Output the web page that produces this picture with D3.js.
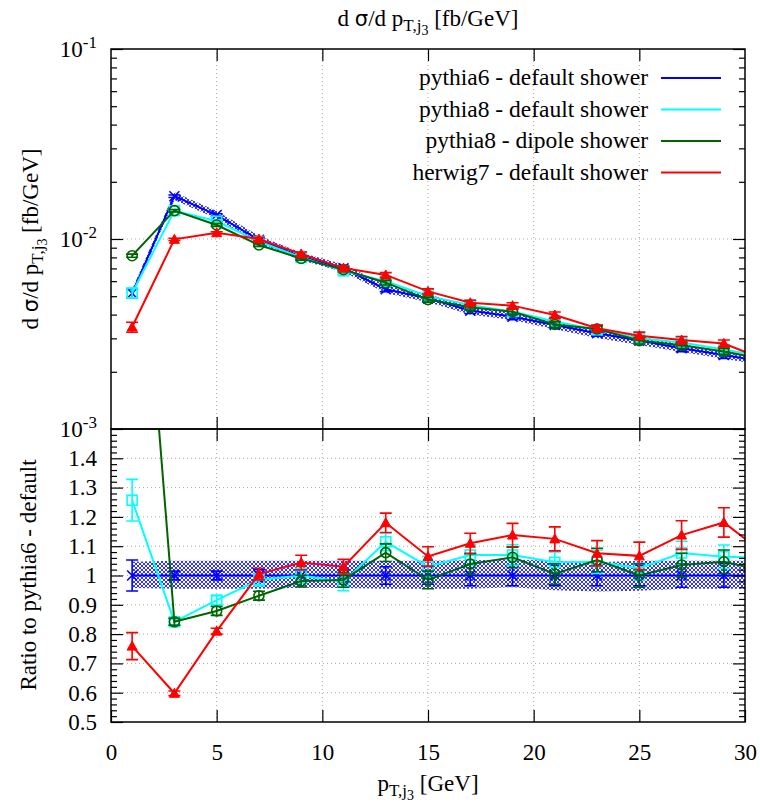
<!DOCTYPE html>
<html>
<head>
<meta charset="utf-8">
<script src="https://cdn.jsdelivr.net/npm/d3@7"></script>
<style>
body { margin: 0; background: #fff; }
svg, svg text { font-family: "Liberation Serif", "DejaVu Serif", "Times New Roman", Times, serif !important; }
.axis path { display: none; }
.axis line { stroke: #000; stroke-width: 1.2; }
.axis text { font-size: 23px; fill: #000; }
.grid line { stroke: #a8a8a8; stroke-width: 1; stroke-dasharray: 1,3; }
</style>
</head>
<body>
<svg id="chart" width="760" height="806"></svg>
<script>
// bin centres (last one sits just past the frame and is clipped)
var xBins = [1, 3, 5, 7, 9, 11, 13, 15, 17, 19, 21, 23, 25, 27, 29, 31];

// d sigma / d pT [fb/GeV]
var p6Xsec  = [0.00518, 0.0168, 0.01337, 0.0099, 0.00806, 0.00701, 0.00544, 0.00487, 0.0042, 0.0039, 0.00353, 0.00319, 0.00292, 0.00266, 0.00245, 0.00225];
var p8Xsec  = [0.0052, 0.0141, 0.0124, 0.0097, 0.0080, 0.0068, 0.0060, 0.0050, 0.0045, 0.00415, 0.00368, 0.00333, 0.0030, 0.00285, 0.00262, 0.0024];
var p8dXsec = [0.00817, 0.0141, 0.01185, 0.0093, 0.0079, 0.0069, 0.00589, 0.0048, 0.00437, 0.00414, 0.00355, 0.00336, 0.00292, 0.00276, 0.00256, 0.00232];
var hw7Xsec = [0.00344, 0.00996, 0.01079, 0.0100, 0.00834, 0.00703, 0.00647, 0.0053, 0.00462, 0.00446, 0.00398, 0.00339, 0.0031, 0.00294, 0.00282, 0.0023];

// ratio to pythia6 default
var p6Ratio  = [1, 1, 1, 1, 1, 1, 1, 1, 1, 1, 1, 1, 1, 1, 1, 1];
var p8Ratio  = [1.257, 0.842, 0.916, 0.985, 1.0, 0.978, 1.115, 1.03, 1.07, 1.07, 1.045, 1.047, 1.025, 1.077, 1.064, 1.06];
var p8dRatio = [2.65, 0.842, 0.879, 0.931, 0.981, 0.985, 1.078, 0.985, 1.039, 1.062, 1.005, 1.053, 1.0, 1.036, 1.047, 1.015];
var hw7Ratio = [0.759, 0.598, 0.81, 1.005, 1.044, 1.03, 1.18, 1.065, 1.11, 1.138, 1.125, 1.076, 1.067, 1.138, 1.181, 1.07];

// ratio errors (half widths)
var p6Err  = [0.053, 0.015, 0.015, 0.02, 0.02, 0.02, 0.03, 0.03, 0.035, 0.035, 0.035, 0.035, 0.035, 0.04, 0.04, 0.04];
var p8Err  = [0.071, 0.01, 0.015, 0.02, 0.025, 0.03, 0.03, 0.035, 0.035, 0.035, 0.035, 0.04, 0.04, 0.04, 0.04, 0.04];
var p8dErr = [0.05, 0.012, 0.015, 0.015, 0.02, 0.025, 0.03, 0.03, 0.035, 0.035, 0.035, 0.04, 0.04, 0.04, 0.04, 0.04];
var hw7Err = [0.046, 0.008, 0.01, 0.02, 0.025, 0.025, 0.033, 0.033, 0.034, 0.04, 0.041, 0.043, 0.047, 0.049, 0.05, 0.05];

// pythia6 uncertainty band (ratio)
var bandHi = [1.047, 1.05, 1.05, 1.05, 1.05, 1.05, 1.05, 1.05, 1.052, 1.055, 1.05, 1.045, 1.05, 1.05, 1.05, 1.05];
var bandLo = [0.957, 0.955, 0.955, 0.955, 0.958, 0.957, 0.955, 0.955, 0.955, 0.96, 0.95, 0.945, 0.948, 0.955, 0.955, 0.955];

var seriesNames = ['pythia6 - default shower', 'pythia8 - default shower', 'pythia8 - dipole shower', 'herwig7 - default shower'];
var seriesColors = ['#0000ff', '#00ffff', '#006400', '#ff0000'];
var seriesMarks = ['cross', 'square', 'circle', 'triangle'];

var xTicks = [0, 5, 10, 15, 20, 25, 30];
var yTopTicks = [1e-3, 1e-2, 1e-1];
var yBotTicks = [0.5, 0.6, 0.7, 0.8, 0.9, 1.0, 1.1, 1.2, 1.3, 1.4];

var FONT = '"Liberation Serif", "DejaVu Serif", "Times New Roman", serif';
var FS = 23;

var series = seriesNames.map(function (n, k) {
    return {
        name: n, color: seriesColors[k], mark: seriesMarks[k],
        xsec: [p6Xsec, p8Xsec, p8dXsec, hw7Xsec][k],
        ratio: [p6Ratio, p8Ratio, p8dRatio, hw7Ratio][k],
        err: [p6Err, p8Err, p8dErr, hw7Err][k]
    };
});

var svg = d3.select('#chart').attr('font-family', FONT);
var L = 111, R = 745, T = 49, M = 429, B = 722;

var x = d3.scaleLinear().domain([0, 30]).range([L, R]);
var yT = d3.scaleLog().domain([1e-3, 1e-1]).range([M, T]);
var yB = d3.scaleLinear().domain([0.5, 1.5]).range([B, M]);

var defs = svg.append('defs');
defs.append('clipPath').attr('id', 'clipTop').append('rect')
    .attr('x', L).attr('y', T).attr('width', R - L).attr('height', M - T);
defs.append('clipPath').attr('id', 'clipBot').append('rect')
    .attr('x', L).attr('y', M).attr('width', R - L).attr('height', B - M);
var pat = defs.append('pattern').attr('id', 'hatch')
    .attr('patternUnits', 'userSpaceOnUse').attr('width', 4).attr('height', 4);
pat.append('path').attr('d', 'M0,0L4,4M4,0L0,4')
    .attr('stroke', '#0000ff').attr('stroke-width', 0.8);

// grid
var grid = svg.append('g').attr('class', 'grid');
xTicks.slice(1, -1).forEach(function (t) {
    grid.append('line').attr('x1', x(t)).attr('x2', x(t)).attr('y1', T).attr('y2', B);
});
grid.append('line').attr('x1', L).attr('x2', R).attr('y1', yT(1e-2)).attr('y2', yT(1e-2));
yBotTicks.slice(1).forEach(function (t) {
    grid.append('line').attr('x1', L).attr('x2', R).attr('y1', yB(t)).attr('y2', yB(t));
});

// markers
function drawMark(g, type, cx, cy, color) {
    var s = 5;
    if (type === 'cross') {
        g.append('path').attr('d', 'M' + (cx - s) + ',' + (cy - s) + 'L' + (cx + s) + ',' + (cy + s) +
            'M' + (cx + s) + ',' + (cy - s) + 'L' + (cx - s) + ',' + (cy + s))
            .attr('stroke', color).attr('stroke-width', 1.6).attr('fill', 'none');
    } else if (type === 'square') {
        g.append('rect').attr('x', cx - s).attr('y', cy - s).attr('width', 2 * s).attr('height', 2 * s)
            .attr('stroke', color).attr('stroke-width', 1.6).attr('fill', 'none');
    } else if (type === 'circle') {
        g.append('circle').attr('cx', cx).attr('cy', cy).attr('r', s)
            .attr('stroke', color).attr('stroke-width', 1.6).attr('fill', 'none');
    } else {
        g.append('path').attr('d', 'M' + cx + ',' + (cy - s) + 'L' + (cx + s) + ',' + (cy + s - 1) + 'L' + (cx - s) + ',' + (cy + s - 1) + 'Z')
            .attr('fill', color).attr('stroke', color).attr('stroke-width', 1);
    }
}

function drawErr(g, cx, y1, y2, color) {
    var c = 6;
    g.append('path').attr('d', 'M' + cx + ',' + y1 + 'L' + cx + ',' + y2 +
        'M' + (cx - c) + ',' + y1 + 'L' + (cx + c) + ',' + y1 +
        'M' + (cx - c) + ',' + y2 + 'L' + (cx + c) + ',' + y2)
        .attr('stroke', color).attr('stroke-width', 1.6).attr('fill', 'none');
}

// top panel
var topG = svg.append('g').attr('clip-path', 'url(#clipTop)');
topG.append('path')
    .datum(xBins)
    .attr('fill', 'url(#hatch)')
    .attr('d', d3.area()
        .x(function (d) { return x(d); })
        .y0(function (d, i) { return yT(p6Xsec[i] * bandLo[i]); })
        .y1(function (d, i) { return yT(p6Xsec[i] * bandHi[i]); }));

series.forEach(function (s) {
    var g = topG.append('g');
    g.append('path').datum(xBins)
        .attr('fill', 'none').attr('stroke', s.color).attr('stroke-width', 2)
        .attr('d', d3.line().x(function (d) { return x(d); })
            .y(function (d, i) { return yT(s.xsec[i]); }));
    xBins.forEach(function (b, i) {
        var rel = s.err[i] / s.ratio[i];
        drawErr(g, x(b), yT(s.xsec[i] * (1 + rel)), yT(s.xsec[i] * (1 - rel)), s.color);
        drawMark(g, s.mark, x(b), yT(s.xsec[i]), s.color);
    });
});

// bottom panel
var botG = svg.append('g').attr('clip-path', 'url(#clipBot)');
botG.append('path')
    .datum(xBins)
    .attr('fill', 'url(#hatch)')
    .attr('d', d3.area()
        .x(function (d) { return x(d); })
        .y0(function (d, i) { return yB(bandLo[i]); })
        .y1(function (d, i) { return yB(bandHi[i]); }));

series.forEach(function (s) {
    var g = botG.append('g');
    g.append('path').datum(xBins)
        .attr('fill', 'none').attr('stroke', s.color).attr('stroke-width', 2)
        .attr('d', d3.line().x(function (d) { return x(d); })
            .y(function (d, i) { return yB(s.ratio[i]); }));
    xBins.forEach(function (b, i) {
        drawErr(g, x(b), yB(s.ratio[i] + s.err[i]), yB(s.ratio[i] - s.err[i]), s.color);
        drawMark(g, s.mark, x(b), yB(s.ratio[i]), s.color);
    });
});

// axes
function minorLog() {
    var m = [];
    [1e-3, 1e-2].forEach(function (d) {
        for (var k = 2; k < 10; k++) m.push(d * k);
    });
    return m;
}
var minorRatio = d3.range(0.52, 1.5, 0.02).filter(function (v) {
    return Math.abs(v * 10 - Math.round(v * 10)) > 0.01;
});

function superLabels(sel) {
    sel.selectAll('text').each(function (d) {
        var t = d3.select(this);
        t.text('');
        t.append('tspan').text('10');
        t.append('tspan').attr('dy', -9).attr('font-size', 17).text(String(Math.round(Math.log10(d))));
    });
}

function axisFont(sel) {
    sel.attr('font-family', FONT).attr('font-size', FS);
}

svg.append('g').attr('class', 'axis').attr('transform', 'translate(' + L + ',0)')
    .call(d3.axisLeft(yT).tickValues(yTopTicks).tickSize(-12).tickPadding(14))
    .call(superLabels).call(axisFont);
svg.append('g').attr('class', 'axis').attr('transform', 'translate(' + L + ',0)')
    .call(d3.axisLeft(yT).tickValues(minorLog()).tickSize(-6).tickFormat(''));
svg.append('g').attr('class', 'axis').attr('transform', 'translate(' + R + ',0)')
    .call(d3.axisRight(yT).tickValues(yTopTicks).tickSize(-12).tickFormat(''));
svg.append('g').attr('class', 'axis').attr('transform', 'translate(' + R + ',0)')
    .call(d3.axisRight(yT).tickValues(minorLog()).tickSize(-6).tickFormat(''));

svg.append('g').attr('class', 'axis').attr('transform', 'translate(' + L + ',0)')
    .call(d3.axisLeft(yB).tickValues(yBotTicks).tickSize(-12).tickPadding(14)
        .tickFormat(function (d) { return d3.format('~g')(d); }))
    .call(axisFont);
svg.append('g').attr('class', 'axis').attr('transform', 'translate(' + L + ',0)')
    .call(d3.axisLeft(yB).tickValues(minorRatio).tickSize(-6).tickFormat(''));
svg.append('g').attr('class', 'axis').attr('transform', 'translate(' + R + ',0)')
    .call(d3.axisRight(yB).tickValues(yBotTicks.slice(1)).tickSize(-12).tickFormat(''));
svg.append('g').attr('class', 'axis').attr('transform', 'translate(' + R + ',0)')
    .call(d3.axisRight(yB).tickValues(minorRatio).tickSize(-6).tickFormat(''));

svg.append('g').attr('class', 'axis').attr('transform', 'translate(0,' + B + ')')
    .call(d3.axisBottom(x).tickValues(xTicks).tickSize(-12).tickPadding(22).tickFormat(d3.format('d')))
    .call(axisFont);
svg.append('g').attr('class', 'axis').attr('transform', 'translate(0,' + M + ')')
    .call(d3.axisBottom(x).tickValues(xTicks.slice(1, -1)).tickSize(-12).tickFormat(''));
svg.append('g').attr('class', 'axis').attr('transform', 'translate(0,' + M + ')')
    .call(d3.axisTop(x).tickValues(xTicks.slice(1, -1)).tickSize(-12).tickFormat(''));
svg.append('g').attr('class', 'axis').attr('transform', 'translate(0,' + T + ')')
    .call(d3.axisTop(x).tickValues(xTicks.slice(1, -1)).tickSize(-12).tickFormat(''));

// frames
svg.append('rect').attr('x', L).attr('y', T).attr('width', R - L).attr('height', M - T)
    .attr('fill', 'none').attr('stroke', '#000').attr('stroke-width', 1.5);
svg.append('rect').attr('x', L).attr('y', M).attr('width', R - L).attr('height', B - M)
    .attr('fill', 'none').attr('stroke', '#000').attr('stroke-width', 1.5);

// legend
var leg = svg.append('g');
series.forEach(function (s, k) {
    var cy = 78 + k * 31.5;
    leg.append('text').attr('x', 648).attr('y', cy + 7).attr('text-anchor', 'end')
        .attr('font-family', FONT).attr('font-size', 23.5).text(s.name);
    leg.append('line').attr('x1', 661).attr('x2', 721).attr('y1', cy).attr('y2', cy)
        .attr('stroke', s.color).attr('stroke-width', 2);
});

// pT,j3 label with nested subscripts
function ptLabel(t, post) {
    t.append('tspan').text('p');
    t.append('tspan').attr('dy', 5).attr('font-size', 17).text('T,j');
    t.append('tspan').attr('dy', 4).attr('font-size', 14).text('3');
    t.append('tspan').attr('dy', -9).text(' ' + post);
}
function sigmaLabel(t, post) {
    t.append('tspan').text('d ');
    t.append('tspan').attr('font-family', '"DejaVu Sans", sans-serif').attr('font-size', 21).text('σ');
    t.append('tspan').text('/d ');
    ptLabel(t, post);
}

var title = svg.append('text').attr('x', 428).attr('y', 26).attr('text-anchor', 'middle')
    .attr('font-family', FONT).attr('font-size', FS);
sigmaLabel(title, '[fb/GeV]');

var ylab = svg.append('text').attr('transform', 'translate(38,239) rotate(-90)')
    .attr('text-anchor', 'middle').attr('font-family', FONT).attr('font-size', FS);
sigmaLabel(ylab, '[fb/GeV]');

svg.append('text').attr('transform', 'translate(36,575) rotate(-90)')
    .attr('text-anchor', 'middle').attr('font-family', FONT).attr('font-size', FS)
    .text('Ratio to pythia6 - default');

var xlab = svg.append('text').attr('x', 428).attr('y', 791).attr('text-anchor', 'middle')
    .attr('font-family', FONT).attr('font-size', FS);
ptLabel(xlab, '[GeV]');
</script>
</body>
</html>
